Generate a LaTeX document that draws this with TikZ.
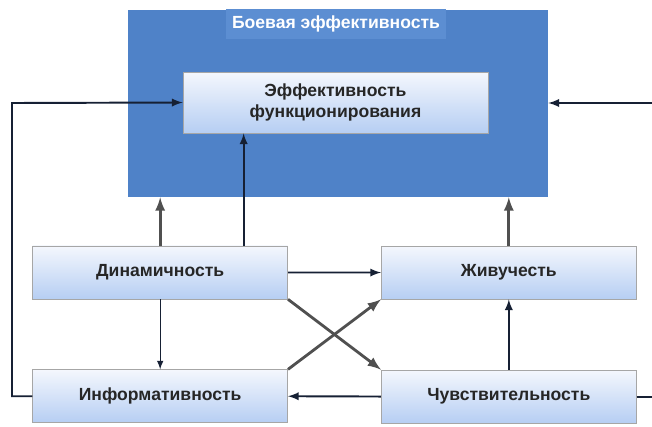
\documentclass[tikz,border=0pt]{standalone}
\usepackage{fontspec}
\setmainfont{Liberation Sans}
\usetikzlibrary{matrix,arrows}
\definecolor{outerblue}{RGB}{79,130,200}
\definecolor{titleblue}{RGB}{92,142,210}
\definecolor{boxtop}{RGB}{244,247,253}
\definecolor{boxbot}{RGB}{182,206,243}
\definecolor{linedark}{RGB}{22,32,52}
\definecolor{linegray}{RGB}{80,80,80}
\tikzset{
  factor/.style={top color=boxtop, bottom color=boxbot, draw=gray!70, minimum width=5.1cm, minimum height=1.06cm, font=\bfseries, text=black!85},
  outerbox/.style={fill=outerblue, minimum width=8.4cm, minimum height=3.74cm},
  link/.style={->, line width=1.1pt, draw=linedark},
  feed/.style={->, line width=1.6pt, draw=linegray}
}
\begin{document}
\begin{tikzpicture}[>=latex, x=0.02cm, y=-0.02cm]
  \useasboundingbox (0,0) rectangle (652,426);
  \clip (0,0) rectangle (652,426);
  \node (be) [outerbox] at (338,103.5) {};
  \node (title) [fill=titleblue, minimum width=4.16cm, minimum height=0.6cm, text=white, font=\bfseries] at (336,24) {Боевая эффективность};
  \node (ef) [factor, minimum width=6.1cm, minimum height=1.22cm, align=center] at (335.5,102.5) {Эффективность\\функционирования};
  \matrix (m) [matrix of nodes, nodes=factor, row sep=1.4cm, column sep=1.86cm] at (334.5,334.5)
  {
Динамичность & Живучесть \\
Информативность & Чувствительность \\
  };
  \coordinate (lft) at (12,103);
  \coordinate (rgt) at (662,103);
  \path
    (m-1-1.north) edge[feed] (m-1-1.north |- be.south)
    (m-1-2.north) edge[feed] (m-1-2.north |- be.south)
    (m-1-1.south east) edge[feed] (m-2-2.north west)
    (m-2-1.north east) edge[feed] (m-1-2.south west)
  ;
  \draw[link] ([xshift=1.67cm]m-1-1.north) -- ([xshift=1.67cm]m-1-1.north |- ef.south);
  \path
    (m-1-1.east) edge[link] (m-1-2.west)
    (m-1-1.south) edge[link, line width=0.7pt] (m-2-1.north)
    (m-2-2.north) edge[link] (m-1-2.south)
    (m-2-2.west) edge[link] (m-2-1.east)
  ;
  \draw[link] (m-2-1.west) -| (lft) -- (ef.west);
  \draw[link] (m-2-2.east) -| (rgt) -- (be.east |- rgt);
\end{tikzpicture}
\end{document}
